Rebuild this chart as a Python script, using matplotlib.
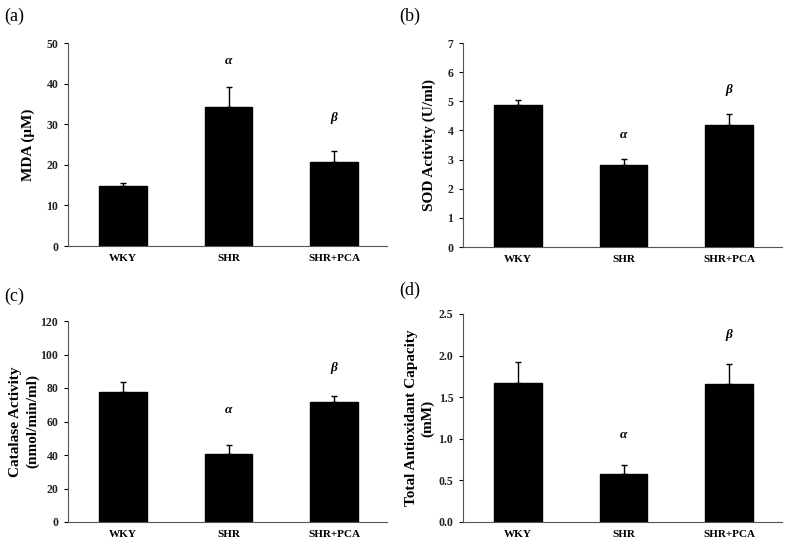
import matplotlib.pyplot as plt
import numpy as np

groups = ['WKY', 'SHR', 'SHR+PCA']

mda = [14.8, 34.2, 20.7]
mda_err = [0.8, 5.0, 2.6]

sod = [4.88, 2.82, 4.2]
sod_err = [0.17, 0.21, 0.37]

cat = [77.5, 40.5, 71.5]
cat_err = [6.0, 5.5, 4.0]

tac = [1.67, 0.58, 1.66]
tac_err = [0.25, 0.11, 0.24]

# significance marks: (group index, height, symbol)
mda_marks = [(1, 45.6, r'$\alpha$'), (2, 31.5, r'$\beta$')]
sod_marks = [(1, 3.84, r'$\alpha$'), (2, 5.39, r'$\beta$')]
cat_marks = [(1, 66.8, r'$\alpha$'), (2, 92.0, r'$\beta$')]
tac_marks = [(1, 1.045, r'$\alpha$'), (2, 2.25, r'$\beta$')]

plt.rcParams['font.family'] = ['Liberation Serif', 'DejaVu Serif']
plt.rcParams['mathtext.fontset'] = 'custom'
plt.rcParams['mathtext.it'] = 'Liberation Serif:italic:bold'

fig = plt.figure(figsize=(7.89, 5.49), dpi=100)

W, H = 789.0, 549.0


def make_ax(left, right, top, bottom):
    return fig.add_axes([left / W, 1 - bottom / H, (right - left) / W, (bottom - top) / H])


panels = [
    (make_ax(68, 387, 43, 246), mda, mda_err, mda_marks, 50, 10, '%d', 'MDA (μM)', '(a)', (4, 8), 8),
    (make_ax(463, 782, 43, 247), sod, sod_err, sod_marks, 7, 1, '%d', 'SOD Activity (U/ml)', '(b)', (399, 8), 8),
    (make_ax(68, 387, 321, 522), cat, cat_err, cat_marks, 120, 20, '%d', 'Catalase Activity\n(nmol/min/ml)', '(c)', (4, 288), 1),
    (make_ax(463, 782, 314, 522), tac, tac_err, tac_marks, 2.5, 0.5, '%.1f', 'Total Antioxidant Capacity\n(mM)', '(d)', (399, 282), 3),
]

x = np.arange(len(groups))

for ax, vals, errs, marks, ymax, step, fmt, ylabel, tag, tagpos, lpad in panels:
    ax.bar(x, vals, width=0.45, color='black', edgecolor='black')
    ax.errorbar(x, vals, yerr=[np.zeros(len(errs)), errs], fmt='none',
                ecolor='black', elinewidth=1.0, capsize=2.5, capthick=1.0)
    for i, h, s in marks:
        ax.text(x[i], h, s, ha='center', va='center', fontsize=9.5)
    ax.set_xlim(-0.52, 2.5)
    ax.set_ylim(0, ymax)
    ticks = np.arange(0, ymax + step / 2, step)
    ax.set_yticks(ticks)
    ax.set_yticklabels([fmt % t for t in ticks], fontsize=8.5, fontweight='bold', color='#222222')
    ax.set_xticks(x)
    ax.set_xticklabels(groups, fontsize=8, fontweight='bold')
    ax.tick_params(axis='x', length=0, pad=6)
    ax.tick_params(axis='y', length=3, width=0.8, direction='out', pad=4)
    ax.spines['top'].set_visible(False)
    ax.spines['right'].set_visible(False)
    ax.spines['left'].set_color('#555555')
    ax.spines['bottom'].set_color('#555555')
    ax.set_ylabel(ylabel, fontsize=11, fontweight='bold', labelpad=lpad, linespacing=1.3)
    fig.text(tagpos[0] / W, 1 - tagpos[1] / H, tag, fontsize=13, ha='left', va='top')

fig.savefig('out.png', dpi=100)
